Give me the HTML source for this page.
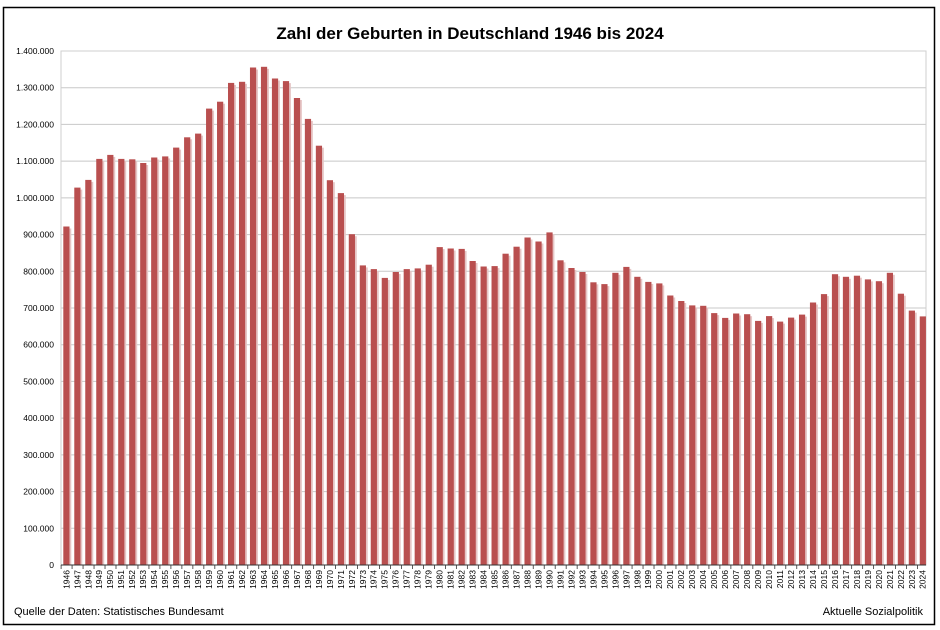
<!DOCTYPE html>
<html><head><meta charset="utf-8"><style>body{margin:0;background:#fff}svg{display:block}</style></head>
<body>
<svg width="940" height="630" xmlns="http://www.w3.org/2000/svg" font-family="Liberation Sans, sans-serif">
<rect x="0" y="0" width="940" height="630" fill="#fff"/>
<rect x="3.5" y="7.5" width="931" height="617" fill="none" stroke="#000" stroke-width="1.5"/>
<text x="470" y="39" text-anchor="middle" font-size="17" font-weight="bold">Zahl der Geburten in Deutschland 1946 bis 2024</text>
<g stroke="#c8c8c8" stroke-width="1">
<line x1="61" x2="926" y1="528.3" y2="528.3"/><line x1="61" x2="926" y1="491.6" y2="491.6"/><line x1="61" x2="926" y1="454.9" y2="454.9"/><line x1="61" x2="926" y1="418.1" y2="418.1"/><line x1="61" x2="926" y1="381.4" y2="381.4"/><line x1="61" x2="926" y1="344.7" y2="344.7"/><line x1="61" x2="926" y1="308" y2="308"/><line x1="61" x2="926" y1="271.3" y2="271.3"/><line x1="61" x2="926" y1="234.6" y2="234.6"/><line x1="61" x2="926" y1="197.9" y2="197.9"/><line x1="61" x2="926" y1="161.1" y2="161.1"/><line x1="61" x2="926" y1="124.4" y2="124.4"/><line x1="61" x2="926" y1="87.7" y2="87.7"/>
</g>
<rect x="61" y="51" width="865" height="514" fill="none" stroke="#cfcfcf"/>
<g font-size="8.5" text-anchor="end">
<text x="54" y="568">0</text><text x="54" y="531.3">100.000</text><text x="54" y="494.6">200.000</text><text x="54" y="457.9">300.000</text><text x="54" y="421.1">400.000</text><text x="54" y="384.4">500.000</text><text x="54" y="347.7">600.000</text><text x="54" y="311">700.000</text><text x="54" y="274.3">800.000</text><text x="54" y="237.6">900.000</text><text x="54" y="200.9">1.000.000</text><text x="54" y="164.1">1.100.000</text><text x="54" y="127.4">1.200.000</text><text x="54" y="90.7">1.300.000</text><text x="54" y="54">1.400.000</text>
</g>
<g transform="translate(0,565) scale(1,-1)">
<g fill="#e6c6c6">
<rect x="68.3" y="0" width="3" height="336.5"/><rect x="79.28" y="0" width="3" height="375.4"/><rect x="90.26" y="0" width="3" height="383.1"/><rect x="101.24" y="0" width="3" height="404.1"/><rect x="112.22" y="0" width="3" height="408.1"/><rect x="123.2" y="0" width="3" height="404.1"/><rect x="134.18" y="0" width="3" height="403.7"/><rect x="145.16" y="0" width="3" height="400"/><rect x="156.14" y="0" width="3" height="405.5"/><rect x="167.12" y="0" width="3" height="406.6"/><rect x="178.1" y="0" width="3" height="415.4"/><rect x="189.08" y="0" width="3" height="425.7"/><rect x="200.06" y="0" width="3" height="429.4"/><rect x="211.04" y="0" width="3" height="454.4"/><rect x="222.02" y="0" width="3" height="461.3"/><rect x="233" y="0" width="3" height="480.1"/><rect x="243.98" y="0" width="3" height="481.2"/><rect x="254.96" y="0" width="3" height="495.5"/><rect x="265.94" y="0" width="3" height="496.2"/><rect x="276.92" y="0" width="3" height="484.5"/><rect x="287.9" y="0" width="3" height="481.9"/><rect x="298.88" y="0" width="3" height="465"/><rect x="309.86" y="0" width="3" height="444.1"/><rect x="320.84" y="0" width="3" height="417.3"/><rect x="331.82" y="0" width="3" height="382.8"/><rect x="342.8" y="0" width="3" height="369.9"/><rect x="353.78" y="0" width="3" height="328.8"/><rect x="364.76" y="0" width="3" height="297.6"/><rect x="375.74" y="0" width="3" height="293.9"/><rect x="386.72" y="0" width="3" height="285.1"/><rect x="397.7" y="0" width="3" height="291"/><rect x="408.68" y="0" width="3" height="293.9"/><rect x="419.66" y="0" width="3" height="294.6"/><rect x="430.64" y="0" width="3" height="298.3"/><rect x="441.62" y="0" width="3" height="315.9"/><rect x="452.6" y="0" width="3" height="314.5"/><rect x="463.58" y="0" width="3" height="314.1"/><rect x="474.56" y="0" width="3" height="302"/><rect x="485.54" y="0" width="3" height="296.5"/><rect x="496.52" y="0" width="3" height="296.9"/><rect x="507.5" y="0" width="3" height="309.3"/><rect x="518.48" y="0" width="3" height="316.3"/><rect x="529.46" y="0" width="3" height="325.5"/><rect x="540.44" y="0" width="3" height="321.5"/><rect x="551.42" y="0" width="3" height="330.6"/><rect x="562.4" y="0" width="3" height="302.7"/><rect x="573.38" y="0" width="3" height="295"/><rect x="584.36" y="0" width="3" height="291"/><rect x="595.34" y="0" width="3" height="280.7"/><rect x="606.32" y="0" width="3" height="278.9"/><rect x="617.3" y="0" width="3" height="290.2"/><rect x="628.28" y="0" width="3" height="296.1"/><rect x="639.26" y="0" width="3" height="286.2"/><rect x="650.24" y="0" width="3" height="281.1"/><rect x="661.22" y="0" width="3" height="279.6"/><rect x="672.2" y="0" width="3" height="267.5"/><rect x="683.18" y="0" width="3" height="262"/><rect x="694.16" y="0" width="3" height="257.6"/><rect x="705.14" y="0" width="3" height="257.2"/><rect x="716.12" y="0" width="3" height="249.9"/><rect x="727.1" y="0" width="3" height="245.1"/><rect x="738.08" y="0" width="3" height="249.5"/><rect x="749.06" y="0" width="3" height="248.8"/><rect x="760.04" y="0" width="3" height="242.1"/><rect x="771.02" y="0" width="3" height="246.9"/><rect x="782" y="0" width="3" height="241.4"/><rect x="792.98" y="0" width="3" height="245.4"/><rect x="803.96" y="0" width="3" height="248.4"/><rect x="814.94" y="0" width="3" height="260.5"/><rect x="825.92" y="0" width="3" height="268.9"/><rect x="836.9" y="0" width="3" height="288.8"/><rect x="847.88" y="0" width="3" height="286.2"/><rect x="858.86" y="0" width="3" height="287.3"/><rect x="869.84" y="0" width="3" height="283.6"/><rect x="880.82" y="0" width="3" height="281.8"/><rect x="891.8" y="0" width="3" height="290.2"/><rect x="902.78" y="0" width="3" height="269.3"/><rect x="913.76" y="0" width="3" height="252.4"/><rect x="924.74" y="0" width="1.3" height="246.6"/>
</g>
<g fill="#b94f4f">
<rect x="63.3" y="0" width="6.2" height="338.5"/><rect x="74.28" y="0" width="6.2" height="377.4"/><rect x="85.26" y="0" width="6.2" height="385.1"/><rect x="96.24" y="0" width="6.2" height="406.1"/><rect x="107.22" y="0" width="6.2" height="410.1"/><rect x="118.2" y="0" width="6.2" height="406.1"/><rect x="129.18" y="0" width="6.2" height="405.7"/><rect x="140.16" y="0" width="6.2" height="402"/><rect x="151.14" y="0" width="6.2" height="407.5"/><rect x="162.12" y="0" width="6.2" height="408.6"/><rect x="173.1" y="0" width="6.2" height="417.4"/><rect x="184.08" y="0" width="6.2" height="427.7"/><rect x="195.06" y="0" width="6.2" height="431.4"/><rect x="206.04" y="0" width="6.2" height="456.4"/><rect x="217.02" y="0" width="6.2" height="463.3"/><rect x="228" y="0" width="6.2" height="482.1"/><rect x="238.98" y="0" width="6.2" height="483.2"/><rect x="249.96" y="0" width="6.2" height="497.5"/><rect x="260.94" y="0" width="6.2" height="498.2"/><rect x="271.92" y="0" width="6.2" height="486.5"/><rect x="282.9" y="0" width="6.2" height="483.9"/><rect x="293.88" y="0" width="6.2" height="467"/><rect x="304.86" y="0" width="6.2" height="446.1"/><rect x="315.84" y="0" width="6.2" height="419.3"/><rect x="326.82" y="0" width="6.2" height="384.8"/><rect x="337.8" y="0" width="6.2" height="371.9"/><rect x="348.78" y="0" width="6.2" height="330.8"/><rect x="359.76" y="0" width="6.2" height="299.6"/><rect x="370.74" y="0" width="6.2" height="295.9"/><rect x="381.72" y="0" width="6.2" height="287.1"/><rect x="392.7" y="0" width="6.2" height="293"/><rect x="403.68" y="0" width="6.2" height="295.9"/><rect x="414.66" y="0" width="6.2" height="296.6"/><rect x="425.64" y="0" width="6.2" height="300.3"/><rect x="436.62" y="0" width="6.2" height="317.9"/><rect x="447.6" y="0" width="6.2" height="316.5"/><rect x="458.58" y="0" width="6.2" height="316.1"/><rect x="469.56" y="0" width="6.2" height="304"/><rect x="480.54" y="0" width="6.2" height="298.5"/><rect x="491.52" y="0" width="6.2" height="298.9"/><rect x="502.5" y="0" width="6.2" height="311.3"/><rect x="513.48" y="0" width="6.2" height="318.3"/><rect x="524.46" y="0" width="6.2" height="327.5"/><rect x="535.44" y="0" width="6.2" height="323.5"/><rect x="546.42" y="0" width="6.2" height="332.6"/><rect x="557.4" y="0" width="6.2" height="304.7"/><rect x="568.38" y="0" width="6.2" height="297"/><rect x="579.36" y="0" width="6.2" height="293"/><rect x="590.34" y="0" width="6.2" height="282.7"/><rect x="601.32" y="0" width="6.2" height="280.9"/><rect x="612.3" y="0" width="6.2" height="292.2"/><rect x="623.28" y="0" width="6.2" height="298.1"/><rect x="634.26" y="0" width="6.2" height="288.2"/><rect x="645.24" y="0" width="6.2" height="283.1"/><rect x="656.22" y="0" width="6.2" height="281.6"/><rect x="667.2" y="0" width="6.2" height="269.5"/><rect x="678.18" y="0" width="6.2" height="264"/><rect x="689.16" y="0" width="6.2" height="259.6"/><rect x="700.14" y="0" width="6.2" height="259.2"/><rect x="711.12" y="0" width="6.2" height="251.9"/><rect x="722.1" y="0" width="6.2" height="247.1"/><rect x="733.08" y="0" width="6.2" height="251.5"/><rect x="744.06" y="0" width="6.2" height="250.8"/><rect x="755.04" y="0" width="6.2" height="244.1"/><rect x="766.02" y="0" width="6.2" height="248.9"/><rect x="777" y="0" width="6.2" height="243.4"/><rect x="787.98" y="0" width="6.2" height="247.4"/><rect x="798.96" y="0" width="6.2" height="250.4"/><rect x="809.94" y="0" width="6.2" height="262.5"/><rect x="820.92" y="0" width="6.2" height="270.9"/><rect x="831.9" y="0" width="6.2" height="290.8"/><rect x="842.88" y="0" width="6.2" height="288.2"/><rect x="853.86" y="0" width="6.2" height="289.3"/><rect x="864.84" y="0" width="6.2" height="285.6"/><rect x="875.82" y="0" width="6.2" height="283.8"/><rect x="886.8" y="0" width="6.2" height="292.2"/><rect x="897.78" y="0" width="6.2" height="271.3"/><rect x="908.76" y="0" width="6.2" height="254.4"/><rect x="919.74" y="0" width="6.2" height="248.6"/>
</g>
</g>
<line x1="61" x2="926" y1="565" y2="565" stroke="#333" stroke-width="1"/>
<line x1="60.7" x2="927" y1="567" y2="567" stroke="#333" stroke-width="4" stroke-dasharray="0.8 10.18"/>
<g font-size="8.5" text-anchor="end">
<text transform="translate(69.3,570) rotate(-90)">1946</text><text transform="translate(80.28,570) rotate(-90)">1947</text><text transform="translate(91.26,570) rotate(-90)">1948</text><text transform="translate(102.24,570) rotate(-90)">1949</text><text transform="translate(113.22,570) rotate(-90)">1950</text><text transform="translate(124.2,570) rotate(-90)">1951</text><text transform="translate(135.18,570) rotate(-90)">1952</text><text transform="translate(146.16,570) rotate(-90)">1953</text><text transform="translate(157.14,570) rotate(-90)">1954</text><text transform="translate(168.12,570) rotate(-90)">1955</text><text transform="translate(179.1,570) rotate(-90)">1956</text><text transform="translate(190.08,570) rotate(-90)">1957</text><text transform="translate(201.06,570) rotate(-90)">1958</text><text transform="translate(212.04,570) rotate(-90)">1959</text><text transform="translate(223.02,570) rotate(-90)">1960</text><text transform="translate(234,570) rotate(-90)">1961</text><text transform="translate(244.98,570) rotate(-90)">1962</text><text transform="translate(255.96,570) rotate(-90)">1963</text><text transform="translate(266.94,570) rotate(-90)">1964</text><text transform="translate(277.92,570) rotate(-90)">1965</text><text transform="translate(288.9,570) rotate(-90)">1966</text><text transform="translate(299.88,570) rotate(-90)">1967</text><text transform="translate(310.86,570) rotate(-90)">1968</text><text transform="translate(321.84,570) rotate(-90)">1969</text><text transform="translate(332.82,570) rotate(-90)">1970</text><text transform="translate(343.8,570) rotate(-90)">1971</text><text transform="translate(354.78,570) rotate(-90)">1972</text><text transform="translate(365.76,570) rotate(-90)">1973</text><text transform="translate(376.74,570) rotate(-90)">1974</text><text transform="translate(387.72,570) rotate(-90)">1975</text><text transform="translate(398.7,570) rotate(-90)">1976</text><text transform="translate(409.68,570) rotate(-90)">1977</text><text transform="translate(420.66,570) rotate(-90)">1978</text><text transform="translate(431.64,570) rotate(-90)">1979</text><text transform="translate(442.62,570) rotate(-90)">1980</text><text transform="translate(453.6,570) rotate(-90)">1981</text><text transform="translate(464.58,570) rotate(-90)">1982</text><text transform="translate(475.56,570) rotate(-90)">1983</text><text transform="translate(486.54,570) rotate(-90)">1984</text><text transform="translate(497.52,570) rotate(-90)">1985</text><text transform="translate(508.5,570) rotate(-90)">1986</text><text transform="translate(519.48,570) rotate(-90)">1987</text><text transform="translate(530.46,570) rotate(-90)">1988</text><text transform="translate(541.44,570) rotate(-90)">1989</text><text transform="translate(552.42,570) rotate(-90)">1990</text><text transform="translate(563.4,570) rotate(-90)">1991</text><text transform="translate(574.38,570) rotate(-90)">1992</text><text transform="translate(585.36,570) rotate(-90)">1993</text><text transform="translate(596.34,570) rotate(-90)">1994</text><text transform="translate(607.32,570) rotate(-90)">1995</text><text transform="translate(618.3,570) rotate(-90)">1996</text><text transform="translate(629.28,570) rotate(-90)">1997</text><text transform="translate(640.26,570) rotate(-90)">1998</text><text transform="translate(651.24,570) rotate(-90)">1999</text><text transform="translate(662.22,570) rotate(-90)">2000</text><text transform="translate(673.2,570) rotate(-90)">2001</text><text transform="translate(684.18,570) rotate(-90)">2002</text><text transform="translate(695.16,570) rotate(-90)">2003</text><text transform="translate(706.14,570) rotate(-90)">2004</text><text transform="translate(717.12,570) rotate(-90)">2005</text><text transform="translate(728.1,570) rotate(-90)">2006</text><text transform="translate(739.08,570) rotate(-90)">2007</text><text transform="translate(750.06,570) rotate(-90)">2008</text><text transform="translate(761.04,570) rotate(-90)">2009</text><text transform="translate(772.02,570) rotate(-90)">2010</text><text transform="translate(783,570) rotate(-90)">2011</text><text transform="translate(793.98,570) rotate(-90)">2012</text><text transform="translate(804.96,570) rotate(-90)">2013</text><text transform="translate(815.94,570) rotate(-90)">2014</text><text transform="translate(826.92,570) rotate(-90)">2015</text><text transform="translate(837.9,570) rotate(-90)">2016</text><text transform="translate(848.88,570) rotate(-90)">2017</text><text transform="translate(859.86,570) rotate(-90)">2018</text><text transform="translate(870.84,570) rotate(-90)">2019</text><text transform="translate(881.82,570) rotate(-90)">2020</text><text transform="translate(892.8,570) rotate(-90)">2021</text><text transform="translate(903.78,570) rotate(-90)">2022</text><text transform="translate(914.76,570) rotate(-90)">2023</text><text transform="translate(925.74,570) rotate(-90)">2024</text>
</g>
<text x="14" y="615" font-size="11">Quelle der Daten: Statistisches Bundesamt</text>
<text x="923" y="615" font-size="11" text-anchor="end">Aktuelle Sozialpolitik</text>
</svg>
</body></html>
